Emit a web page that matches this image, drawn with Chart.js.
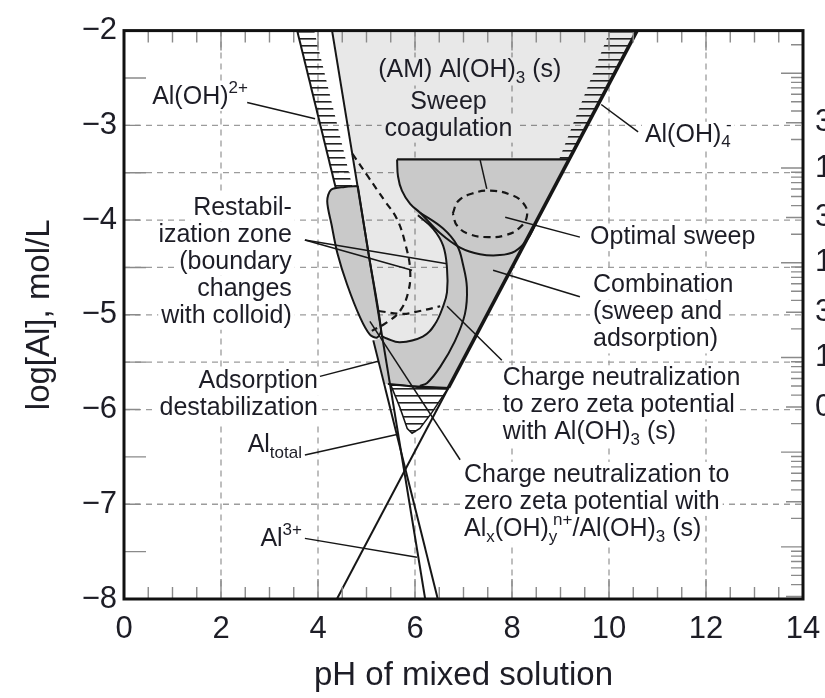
<!DOCTYPE html>
<html>
<head>
<meta charset="utf-8">
<script src="https://cdn.jsdelivr.net/npm/chart.js@4.4.1/dist/chart.umd.min.js"></script>
<style>
  html, body { margin: 0; padding: 0; background: #fff; overflow: hidden; }
  #wrap { width: 870px; height: 698px; }
</style>
</head>
<body>
<div id="wrap"><canvas id="chart" width="870" height="698"></canvas></div>
<script>
// every point is [pH, log[Al]]

// species lines
const al3Line     = [[4.29, -2], [6.21, -8]];
const alOH2Upper  = [[3.57, -2], [4.37, -3.67]];
const alOH2Lower  = [[5.14, -5.27], [6.47, -8]];
const alOH4Lower  = [[4.39, -8], [6.69, -5.77]];
const alOH4Upper  = [[6.69, -5.77], [10.58, -2]];

// zones
const sweepZone = [[4.29, -2], [10.58, -2], [6.69, -5.8], [5.51, -5.8], [4.29, -2]];
const hatchLeft = [[3.57, -2], [3.92, -2], [4.72, -3.67], [4.37, -3.67], [3.57, -2]];
const hatchRight = [[10.58, -2], [10.02, -2], [8.97, -3.36], [9.17, -3.36], [10.58, -2]];
const hatchTip = [[5.50, -5.74], [6.69, -5.77], [6.35, -6.03], [6.10, -6.20], [5.94, -6.25],
  [5.84, -6.20], [5.69, -5.98], [5.50, -5.74]];
const combinationZone = [[5.63, -3.36], [9.17, -3.36], [6.69, -5.77], [6.35, -5.77], [6.0, -5.76],
  [5.69, -5.74], [5.44, -5.73], [5.38, -5.73], [5.14, -5.27], [5.32, -5.24], [5.42, -5.25],
  [5.69, -5.29], [6.16, -5.23], [6.41, -5.10], [6.58, -4.91], [6.66, -4.76], [6.66, -4.51],
  [6.58, -4.27], [6.37, -4.09], [6.06, -3.95], [5.90, -3.83], [5.73, -3.69], [5.65, -3.54],
  [5.63, -3.36]];
const restabZone = [[4.82, -3.64], [5.05, -4.38], [5.30, -5.16], [5.22, -5.24], [5.07, -5.21],
  [4.87, -5.03], [4.60, -4.68], [4.40, -4.35], [4.28, -4.05], [4.19, -3.80], [4.27, -3.68],
  [4.55, -3.65], [4.82, -3.64]];

// boundaries inside the zones
const zoneTop    = [[5.63, -3.36], [9.17, -3.36]];
const zoneBottom = [[5.44, -5.73], [5.69, -5.74], [6.0, -5.76], [6.35, -5.77], [6.69, -5.78]];
const sweepEdge  = [[5.63, -3.36], [5.65, -3.54], [5.73, -3.69], [5.90, -3.83], [6.10, -3.92],
  [6.52, -4.14], [6.93, -4.29], [7.34, -4.36], [7.75, -4.37], [8.06, -4.33], [8.31, -4.21], [8.49, -4.04]];
const innerArc = [[6.06, -3.95], [6.37, -4.09], [6.58, -4.27], [6.66, -4.51], [6.66, -4.76],
  [6.58, -4.91], [6.41, -5.10], [6.16, -5.23], [5.69, -5.29], [5.42, -5.25], [5.30, -5.22]];
const outerArc = [[6.10, -3.92], [6.58, -4.09], [6.87, -4.27], [6.99, -4.47], [7.07, -4.71],
  [7.03, -4.99], [6.82, -5.28], [6.52, -5.55], [6.25, -5.72], [6.10, -5.75]];
const restabDash = [[4.71, -3.30], [5.03, -3.54], [5.38, -3.80], [5.63, -3.99], [5.81, -4.27],
  [5.90, -4.53], [5.86, -4.76], [5.69, -4.96], [5.42, -5.08], [5.11, -5.17]];
const chargeDash = [[5.25, -4.96], [5.75, -4.99], [6.10, -4.96], [6.52, -4.91]];
const optimumDash = [[6.78, -3.93], [6.89, -3.80], [7.18, -3.72], [7.55, -3.69], [7.96, -3.73],
  [8.23, -3.82], [8.31, -3.95], [8.16, -4.08], [7.86, -4.16], [7.51, -4.18], [7.13, -4.15],
  [6.87, -4.06], [6.78, -3.93]];

// leader lines from the labels
const leaders = [
  [[2.54, -2.76], [3.94, -2.93]],
  [[10.60, -3.07], [9.84, -2.78]],
  [[9.40, -4.18], [7.86, -3.97]],
  [[9.40, -4.81], [7.61, -4.53]],
  [[7.79, -5.48], [6.66, -4.91]],
  [[6.93, -6.53], [5.07, -5.07]],
  [[3.73, -4.21], [5.94, -4.53]],
  [[3.73, -4.21], [6.66, -4.46]],
  [[4.04, -5.65], [5.24, -5.49]],
  [[3.73, -6.48], [5.65, -6.26]],
  [[3.73, -7.36], [6.04, -7.56]],
  [[7.34, -3.36], [7.48, -3.67]]
];

// axes
const phGrid = [2, 4, 6, 8, 10, 12];
const logGrid = [-3, -3.5, -4, -4.5, -5, -5.5, -6, -7];
const doseLabels = [300, 100, 30, 10, 3, 1, 0.3];   // alum dose, mg/L (right edge)
const doseOffset = 5.45;                              // log(mg/L) - log[Al]

// text on the plot: _{} subscript, ^{} superscript
const notes = [
  { t: ['(AM) Al(OH)_{3} (s)'], x: 7.13, y: -2.42, a: 'center' },
  { t: ['Sweep', 'coagulation'], x: 6.69, y: -2.75, a: 'center' },
  { t: ['Al(OH)^{2+}'], x: 0.58, y: -2.70, a: 'left' },
  { t: ['Al(OH)_{4}^{-}'], x: 10.74, y: -3.10, a: 'left' },
  { t: ['Restabil-', 'ization zone', '(boundary', 'changes', 'with colloid)'], x: 3.46, y: -3.87, a: 'right' },
  { t: ['Adsorption', 'destabilization'], x: 4.0, y: -5.70, a: 'right' },
  { t: ['Al_{total}'], x: 3.67, y: -6.38, a: 'right' },
  { t: ['Al^{3+}'], x: 3.67, y: -7.37, a: 'right' },
  { t: ['Optimal sweep'], x: 9.61, y: -4.18, a: 'left' },
  { t: ['Combination', '(sweep and', 'adsorption)'], x: 9.67, y: -4.69, a: 'left' },
  { t: ['Charge neutralization', 'to zero zeta potential', 'with Al(OH)_{3} (s)'], x: 7.81, y: -5.67, a: 'left' },
  { t: ['Charge neutralization to', 'zero zeta potential with', 'Al_{x}(OH)_{y}^{n+}/Al(OH)_{3} (s)'], x: 7.01, y: -6.69, a: 'left' }
];

const FONT = "'Liberation Sans', Arial, Helvetica, sans-serif";
const INK = '#1d1d26';
const MID_GRAY = '#c9c9c9';
const pts = a => a.map(([x, y]) => ({ x, y }));

const canvas = document.getElementById('chart');
const c2d = canvas.getContext('2d');

function hatch(bg) {
  const c = document.createElement('canvas');
  c.width = 8; c.height = 7;
  const g = c.getContext('2d');
  if (bg) { g.fillStyle = bg; g.fillRect(0, 0, 8, 7); }
  g.fillStyle = '#222';
  g.fillRect(0, 3, 8, 1.6);
  return c2d.createPattern(c, 'repeat');
}

function zone(data, fill, order, extra) {
  return Object.assign({ data: pts(data), fill: 'shape', backgroundColor: fill,
    borderColor: 'rgba(0,0,0,0)', borderWidth: 0, pointRadius: 0, tension: 0, order }, extra || {});
}
function line(data, width, extra) {
  return Object.assign({ data: pts(data), fill: false, borderColor: '#161616', borderWidth: width,
    pointRadius: 0, tension: 0, order: 10 }, extra || {});
}

const datasets = [
  zone(sweepZone, 'rgba(0,0,0,0.09)', 100),
  zone(hatchLeft, hatch(null), 90),
  zone(hatchRight, hatch(null), 90),
  zone(combinationZone, MID_GRAY, 80),
  zone(hatchTip, hatch('#ffffff'), 75, { borderColor: '#161616', borderWidth: 1.5 }),
  zone(restabZone, MID_GRAY, 60, { borderColor: '#161616', borderWidth: 2, tension: 0.3 }),
  line(zoneTop, 2.2),
  line(zoneBottom, 2, { tension: 0.3 }),
  line(sweepEdge, 2, { tension: 0.4 }),
  line(innerArc, 2, { tension: 0.4 }),
  line(outerArc, 2, { tension: 0.4 }),
  line(restabDash, 2.2, { tension: 0.4, borderDash: [7, 5] }),
  line(chargeDash, 2.2, { tension: 0.4, borderDash: [7, 5] }),
  line(optimumDash, 2.2, { tension: 0.45, borderDash: [7, 5] }),
  line(al3Line, 2),
  line(alOH2Upper, 2),
  line(alOH2Lower, 2),
  line(alOH4Lower, 2),
  line(alOH4Upper, 3.6),
  ...leaders.map(l => line(l, 1.5))
];

function parseRich(s) {
  const out = [];
  const re = /([_^])\{([^}]*)\}/g;
  let last = 0, m;
  while ((m = re.exec(s))) {
    if (m.index > last) out.push({ t: s.slice(last, m.index), k: 0 });
    out.push({ t: m[2], k: m[1] === '_' ? -1 : 1 });
    last = re.lastIndex;
  }
  if (last < s.length) out.push({ t: s.slice(last), k: 0 });
  return out;
}

const BIG = '25px ' + FONT, SMALL = '17px ' + FONT, LINE_H = 27;

function layoutNote(chart, n) {
  const ctx = chart.ctx, x0 = chart.scales.x.getPixelForValue(n.x), y0 = chart.scales.y.getPixelForValue(n.y);
  return n.t.map((txt, i) => {
    const segs = parseRich(txt);
    let w = 0, prevSub = null;
    segs.forEach(s => {
      ctx.font = s.k ? SMALL : BIG;
      s.w = ctx.measureText(s.t).width;
      if (s.k === 1 && prevSub) { s.dx = prevSub.dx + prevSub.w * 0.5; w = Math.max(w, s.dx + s.w); }
      else { s.dx = w; w += s.w; }
      prevSub = s.k === -1 ? s : null;
    });
    const left = n.a === 'left' ? x0 : n.a === 'right' ? x0 - w : x0 - w / 2;
    return { x: left, y: y0 + i * LINE_H, w, segs };
  });
}

const decor = {
  id: 'decor',
  beforeDatasetsDraw(chart) {
    const { ctx, chartArea: a, scales: { x, y } } = chart;
    ctx.save();
    ctx.strokeStyle = '#9c9c9c';
    ctx.lineWidth = 1.3;
    ctx.setLineDash([6, 5]);
    ctx.beginPath();
    phGrid.forEach(v => { const px = x.getPixelForValue(v); ctx.moveTo(px, a.top); ctx.lineTo(px, a.bottom); });
    logGrid.forEach(v => { const py = y.getPixelForValue(v); ctx.moveTo(a.left, py); ctx.lineTo(a.right, py); });
    ctx.stroke();
    ctx.setLineDash([]);
    ctx.fillStyle = '#fff';
    notes.forEach(n => layoutNote(chart, n).forEach(r => ctx.fillRect(r.x - 3, r.y - 13, r.w + 6, 27)));
    ctx.restore();
  },
  afterDatasetsDraw(chart) {
    const { ctx, chartArea: a, scales: { x, y, y2 } } = chart;
    ctx.save();
    // labels
    ctx.fillStyle = INK;
    ctx.textBaseline = 'middle';
    ctx.textAlign = 'left';
    notes.forEach(n => layoutNote(chart, n).forEach(r => {
      r.segs.forEach(s => {
        ctx.font = s.k ? SMALL : BIG;
        ctx.fillText(s.t, r.x + s.dx, r.y + (s.k === -1 ? 8 : s.k === 1 ? -9 : 0));
      });
    }));
    // inner ticks
    ctx.strokeStyle = '#8a8a8a';
    ctx.lineWidth = 1.4;
    ctx.beginPath();
    for (let v = 0.5; v < 14; v += 0.5) {
      const px = x.getPixelForValue(v), len = v % 2 === 0 ? 20 : 12;
      ctx.moveTo(px, a.bottom); ctx.lineTo(px, a.bottom - len);
      ctx.moveTo(px, a.top); ctx.lineTo(px, a.top + len);
    }
    for (let v = -7.5; v < -2; v += 0.5) {
      const py = y.getPixelForValue(v), len = Number.isInteger(v) ? 16 : 22;
      ctx.moveTo(a.left, py); ctx.lineTo(a.left + len, py);
    }
    for (let e = -3; e <= 3; e++) {
      for (let m = 1; m <= 9; m++) {
        const v = m * Math.pow(10, e);
        if (v <= y2.min || v >= y2.max) continue;
        const py = y2.getPixelForValue(v), len = m === 1 ? 22 : m === 3 ? 17 : 12;
        ctx.moveTo(a.right, py); ctx.lineTo(a.right - len, py);
      }
    }
    ctx.stroke();
    // frame
    ctx.strokeStyle = '#111';
    ctx.lineWidth = 3;
    ctx.strokeRect(a.left, a.top, a.right - a.left, a.bottom - a.top);
    ctx.restore();
  }
};

new Chart(canvas, {
  type: 'line',
  data: { datasets },
  plugins: [decor],
  options: {
    responsive: false,
    animation: false,
    events: [],
    layout: { padding: { top: 22, left: 0, right: 0, bottom: 0 } },
    plugins: { legend: { display: false }, tooltip: { enabled: false } },
    scales: {
      x: {
        type: 'linear', min: 0, max: 14,
        grid: { display: false, drawTicks: false }, border: { display: false },
        ticks: { stepSize: 2, padding: 12, color: INK, font: { size: 31, family: FONT } },
        title: { display: true, text: 'pH of mixed solution', color: INK,
          font: { size: 33, family: FONT }, padding: { top: 0, bottom: 2 } },
        afterFit: s => { s.height = 99; }
      },
      y: {
        type: 'linear', min: -8, max: -2, position: 'left',
        grid: { display: false, drawTicks: false }, border: { display: false },
        ticks: { stepSize: 1, padding: 7, color: INK, font: { size: 31, family: FONT },
          callback: v => String(v).replace('-', '\u2212') },
        title: { display: true, text: 'log[Al], mol/L', color: INK,
          font: { size: 33, family: FONT }, padding: { top: 20, bottom: 0 } },
        afterFit: s => { s.width = 124; }
      },
      y2: {
        type: 'logarithmic', position: 'right',
        min: Math.pow(10, -8 + doseOffset), max: Math.pow(10, -2 + doseOffset),
        grid: { display: false, drawTicks: false }, border: { display: false },
        afterBuildTicks: s => { s.ticks = doseLabels.map(v => ({ value: v })); },
        ticks: { autoSkip: false, padding: 12, color: INK, font: { size: 31, family: FONT },
          callback: v => String(v) },
        afterFit: s => { s.width = 67; }
      }
    }
  }
});
</script>
</body>
</html>
